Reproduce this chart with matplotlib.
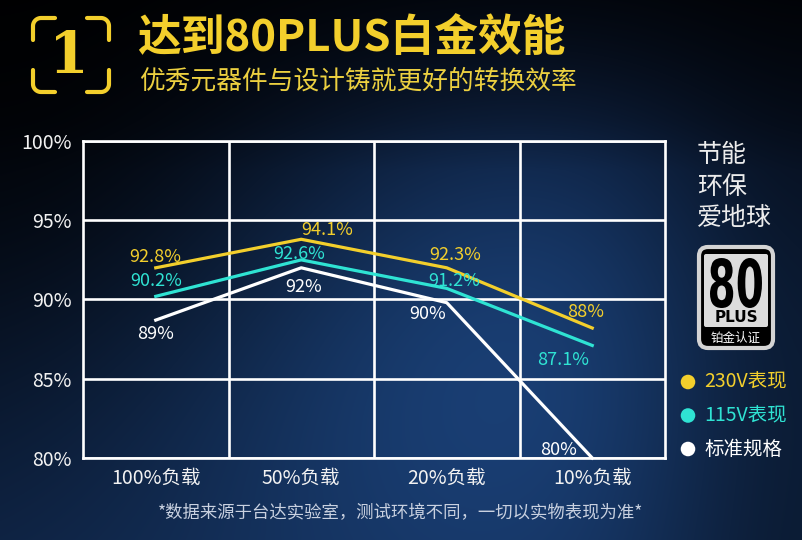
import matplotlib
matplotlib.use("Agg")
import matplotlib.pyplot as plt
import numpy as np
from matplotlib.patches import FancyBboxPatch, PathPatch
from matplotlib.textpath import TextPath
from matplotlib.font_manager import FontProperties
from matplotlib.transforms import Affine2D

plt.rcParams['font.family'] = ['Noto Sans CJK SC', 'DejaVu Sans']

# data
loads = ['100%负载', '50%负载', '20%负载', '10%负载']
eff_230 = [92.0, 93.8, 92.0, 88.2]
eff_115 = [90.2, 92.5, 90.7, 87.1]
eff_std = [88.7, 92.0, 89.8, 80.0]
labels_230 = ['92.8%', '94.1%', '92.3%', '88%']
labels_115 = ['90.2%', '92.6%', '91.2%', '87.1%']
labels_std = ['89%', '92%', '90%', '80%']
series_names = ['230V表现', '115V表现', '标准规格']
y_ticks = [80, 85, 90, 95, 100]

yellow = '#f3cf2c'
cyan = '#2fe3d3'
white = '#ffffff'

W, H = 802, 540
fig = plt.figure(figsize=(W / 100, H / 100), dpi=100)

# background gradient
bg = fig.add_axes([0, 0, 1, 1], zorder=-10)
yy, xx = np.mgrid[0:H, 0:W].astype(float)
glow = np.exp(-(((xx - 470) / 330) ** 2 + ((yy - 310) / 210) ** 2) / 2)
bottom = np.clip((yy - 120) / 420, 0, 1)
t = np.clip(0.75 * glow + 0.45 * bottom, 0, 1)
dark = np.array([0.02, 0.04, 0.10])
blue = np.array([0.11, 0.27, 0.50])
img = dark + (blue - dark) * t[..., None]
corner = np.exp(-((xx / 260) ** 2 + (yy / 330) ** 2) / 2)
right = np.exp(-(((xx - W) / 120) ** 2) / 2)
img *= (1 - 0.85 * corner)[..., None]
img *= (1 - 0.45 * right)[..., None]
top = np.clip(yy / 170, 0, 1)
img *= (0.35 + 0.65 * top)[..., None]
bg.imshow(np.clip(img, 0, 1), extent=[0, W, H, 0], aspect='auto')
bg.set_xlim(0, W)
bg.set_ylim(H, 0)
bg.axis('off')

# main chart
ax = fig.add_axes([83 / W, 1 - 458 / H, (665 - 83) / W, (458 - 141) / H])
ax.set_facecolor('none')
x = np.arange(len(loads))
ax.set_xlim(-0.5, len(loads) - 0.5)
ax.set_ylim(y_ticks[0], y_ticks[-1])
ax.set_yticks(y_ticks)
ax.set_yticklabels([f'{v}%' for v in y_ticks])
ax.set_xticks(x)
ax.set_xticklabels(loads)
ax.set_xticks(x[:-1] + 0.5, minor=True)
ax.tick_params(axis='both', which='both', length=0, colors='#f2f2f2', labelsize=14)
ax.tick_params(axis='y', pad=8)
ax.tick_params(axis='x', pad=7)
ax.grid(axis='y', which='major', color='white', lw=1.9)
ax.grid(axis='x', which='minor', color='white', lw=1.9)
for s in ax.spines.values():
    s.set_color('white')
    s.set_linewidth(1.9)
ax.set_axisbelow(True)

series = [
    (eff_230, labels_230, yellow, [(0, 11), (26, 9), (8, 13), (-7, 16)]),
    (eff_115, labels_115, cyan, [(0, 15), (-2, 6), (7, 7), (-29, -15)]),
    (eff_std, labels_std, white, [(0, -14), (2, -19), (-19, -11), (-34, 8)]),
]
for vals, labs, col, offs in reversed(series):
    ax.plot(x, vals, color=col, lw=2.3, clip_on=False, zorder=3)
for vals, labs, col, offs in series:
    for xi, v, lab, off in zip(x, vals, labs, offs):
        ax.annotate(lab, (xi, v), xytext=off, textcoords='offset pixels',
                    ha='center', va='center', color=col, fontsize=13, zorder=4)

# decorations in pixel coordinates
ov = fig.add_axes([0, 0, 1, 1], zorder=5)
ov.set_xlim(0, W)
ov.set_ylim(H, 0)
ov.axis('off')


def bracket(cx, cy, dx, dy, arm=22, r=8):
    # corner at (cx, cy); arms run in directions dx (horizontal) and dy (vertical)
    a = np.linspace(0, np.pi / 2, 12)
    ox, oy = cx + dx * r, cy + dy * r
    arc_x = ox - dx * r * np.cos(a)
    arc_y = oy - dy * r * np.sin(a)
    px = np.concatenate([[cx], arc_x, [cx + dx * arm]])
    py = np.concatenate([[cy + dy * arm], arc_y, [cy]])
    ov.plot(px, py, color=yellow, lw=3.0, solid_capstyle='round', solid_joinstyle='round')


bracket(33, 18, 1, 1)
bracket(109, 18, -1, 1)
bracket(33, 92, 1, -1)
bracket(109, 92, -1, -1)
ov.text(69, 57, '1', color=yellow, fontsize=41, fontweight='bold', family='DejaVu Serif',
        ha='center', va='center')

ov.text(137, 38, '达到80PLUS白金效能', color=yellow, fontsize=31.5, fontweight='bold',
        ha='left', va='center')
ov.text(139, 82, '优秀元器件与设计铸就更好的转换效率', color='#ecd040', fontsize=18.5,
        ha='left', va='center')

# right side slogan
for i, line in enumerate(['节能', '环保', '爱地球']):
    ov.text(697, 155 + i * 31.5, line, color='#ececec', fontsize=18, ha='left', va='center')

# 80 PLUS badge
ov.add_patch(FancyBboxPatch((699, 247), 74, 101, boxstyle='round,pad=0,rounding_size=9',
                            fc='black', ec='#d4d4d4', lw=3))
ov.add_patch(FancyBboxPatch((704, 254), 64, 73, boxstyle='round,pad=0,rounding_size=2',
                            fc='#dcdcdc', ec='none'))
tp = TextPath((0, 0), '80', size=100, prop=FontProperties(family='DejaVu Sans', weight='bold'))
ext = tp.get_extents()
sx = 52 / ext.width
sy = 50 / ext.height
tr = Affine2D().translate(-ext.x0, -ext.y0).scale(sx, -sy).translate(710, 308)
ov.add_patch(PathPatch(tr.transform_path(tp), fc='black', ec='none'))
ov.text(736, 318, 'PLUS', color='black', fontsize=11, fontweight='bold', family='DejaVu Sans',
        ha='center', va='center')
ov.text(736, 338, '铂金认证', color='white', fontsize=9, ha='center', va='center')

# legend
for i, (name, (vals, labs, col, offs)) in enumerate(zip(series_names, series)):
    yy_ = 382 + i * 33.5
    ov.scatter([688], [yy_], s=110, color=col, edgecolors='none')
    ov.text(704, yy_, name, color=col, fontsize=14, ha='left', va='center')

ov.text(401, 513, '*数据来源于台达实验室，测试环境不同，一切以实物表现为准*', color='#c9d1e0',
        fontsize=12.5, ha='center', va='center')

fig.savefig('out.png', dpi=100)
